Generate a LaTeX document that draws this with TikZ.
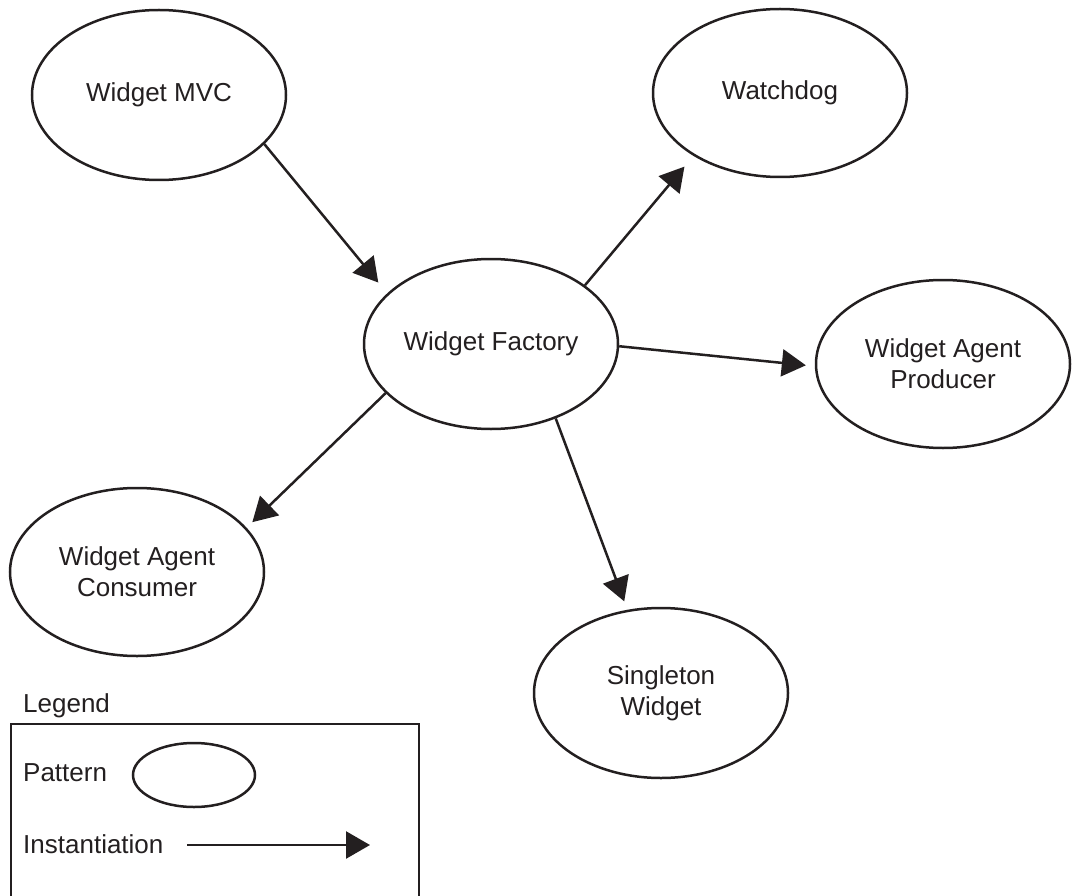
\documentclass[tikz,border=0pt]{standalone}
\usepackage{fontspec}
\setmainfont{Liberation Sans}
\usetikzlibrary{shapes.geometric,arrows.meta}
\definecolor{ink}{RGB}{35,31,32}
\begin{document}
\begin{tikzpicture}[x=1pt,y=-1pt,
  pattern/.style={ellipse,draw=ink,line width=2.5pt,inner sep=0pt,
    minimum width=254pt,minimum height=170pt,align=center,text=ink,
    font=\fontsize{26}{31}\selectfont},
  inst/.style={draw=ink,line width=2.5pt,-{Triangle[length=24pt,width=27pt]}},
  legtext/.style={text=ink,inner sep=0pt,anchor=base west,
    font=\fontsize{26}{31}\selectfont}]
\useasboundingbox (0,0) rectangle (1073,896);
\clip (0,0) rectangle (1073,896);

% patterns
\node[pattern] (mvc)       at (159,95)  {Widget MVC};
\node[pattern] (factory)   at (491,344) {Widget Factory};
\node[pattern,minimum height=168pt] (watchdog)  at (780,93)  {Watchdog};
\node[pattern,minimum height=168pt] (producer)  at (943,364) {Widget Agent\\Producer};
\node[pattern,minimum height=168pt] (consumer)  at (137,572) {Widget Agent\\Consumer};
\node[pattern] (singleton) at (661,693) {Singleton\\Widget};

% instantiations
\draw[inst,shorten >=14pt] (mvc.-25) -- (factory.154);
\draw[inst,shorten >=14pt] (factory.32) -- (watchdog.-144);
\draw[inst,shorten >=9pt]  (factory.-1) -- (producer.181);
\draw[inst,shorten >=8pt]  (factory.205) -- (consumer.22);
\draw[inst,shorten >=9pt]  (factory.-49) -- (singleton.112);

% legend
\node[legtext] (legendtitle) at (23,712) {Legend};
\draw[ink,line width=2.5pt] (11,724) rectangle (419,912);
\node[legtext] (patlabel) at (23,781) {Pattern};
\node[pattern,minimum width=122pt,minimum height=64pt] (legpat) at (194,775) {};
\node[legtext] (instlabel) at (23,853) {Instantiation};
\coordinate (instfrom) at (187,845);
\coordinate (insttip) at (370,845);
\draw[inst] (instfrom) -- (insttip);
\end{tikzpicture}
\end{document}
